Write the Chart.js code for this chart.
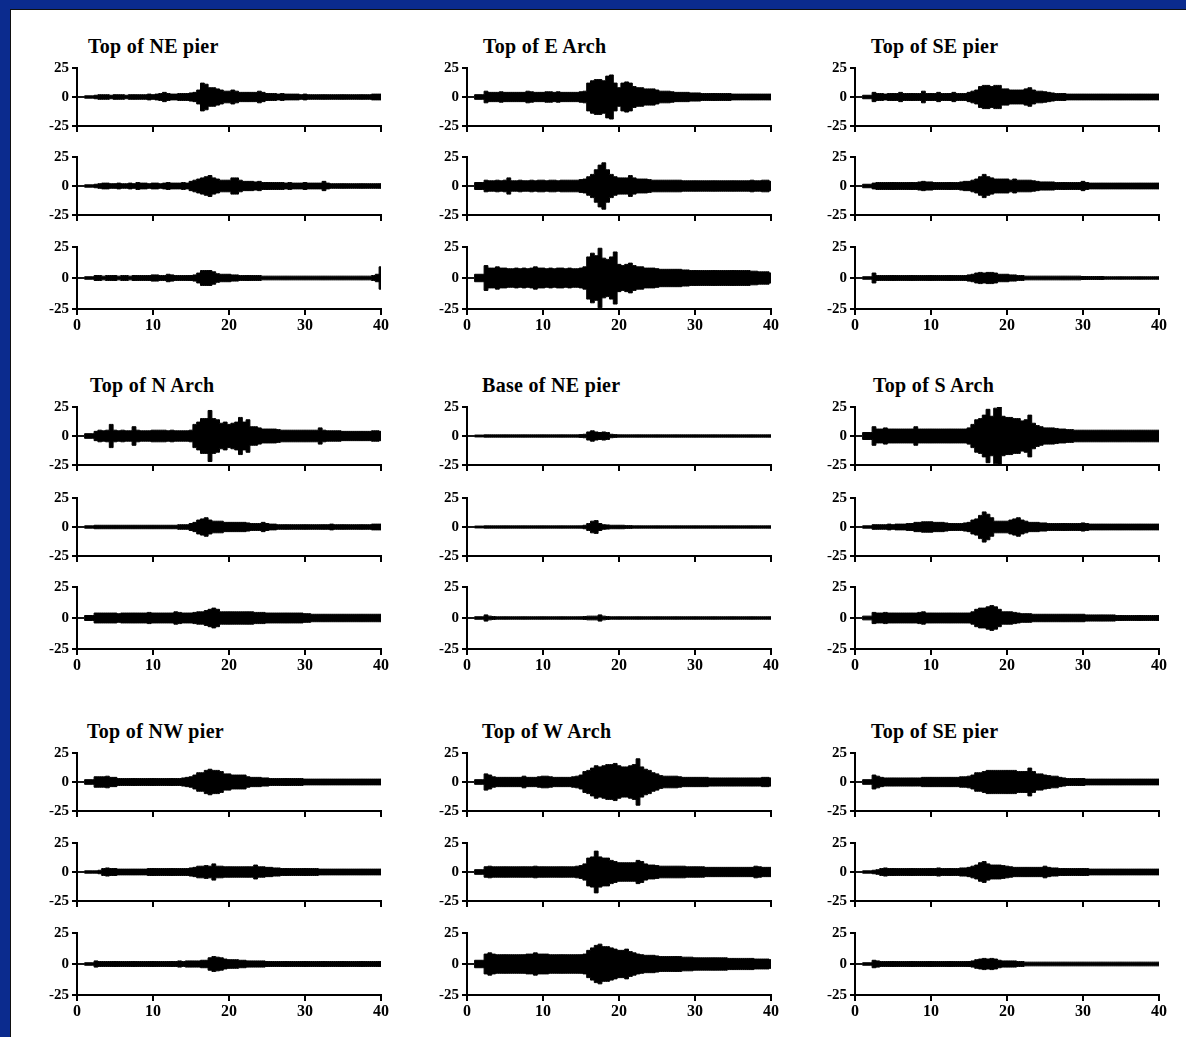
<!DOCTYPE html>
<html>
<head>
<meta charset="utf-8">
<title>Recorded responses</title>
<script src="https://cdn.jsdelivr.net/npm/chart.js@4.4.1/dist/chart.umd.min.js"></script>
<style>
  html, body { margin: 0; padding: 0; }
  body { width: 1186px; height: 1037px; background: #0b2b8e; position: relative; overflow: hidden; }
  #sheet { position: absolute; left: 10px; top: 9px; right: 0; bottom: 0; background: #fff;
           border-left: 1px solid #111; border-top: 1px solid #111; }
  .trace { position: absolute; }
  .trace canvas { display: block; }
  .title { position: absolute; font: bold 20px "Liberation Serif", "Times New Roman", serif;
           line-height: 20px; letter-spacing: 0.3px; color: #000; white-space: nowrap; }
</style>
</head>
<body>
<div id="sheet"></div>
<script>
// time axis (s) shared by every trace
const TIMES = [0, 2, 2.5, 3, 3.5, 4, 4.5, 5, 5.5, 6, 6.5, 7, 7.5, 8, 8.5, 9, 9.5, 10, 10.5, 11, 11.5,
  12, 12.5, 13, 13.5, 14, 14.5, 15, 15.5, 16, 16.5, 17, 17.5, 18, 18.5, 19, 19.5, 20, 20.5, 21, 21.5,
  22, 22.5, 23, 23.5, 24, 24.5, 25, 25.5, 26, 26.5, 27, 27.5, 28, 28.5, 29, 29.5, 30, 30.5, 31, 31.5,
  32, 32.5, 33, 33.5, 34, 34.5, 35, 35.5, 36, 36.5, 37, 37.5, 38, 38.5, 39, 39.5, 40];
const X_TICKS = [0, 10, 20, 30, 40];
const Y_TICKS = [-25, 0, 25];
const TITLES = ['Top of NE pier', 'Top of E Arch', 'Top of SE pier',
                'Top of N Arch', 'Base of NE pier', 'Top of S Arch',
                'Top of NW pier', 'Top of W Arch', 'Top of SE pier'];

// envelope half-amplitude, one value per TIMES entry
const NE_PIER_1 = [0.3,
  1, 1.5, 2, 2, 2, 1.5, 2, 2, 2, 1.5,  2, 2, 2, 2, 2, 2.5, 2, 2.5, 3, 4,
  3, 2.5, 2.5, 3, 3, 3, 3.5, 4, 6, 12,  11, 8, 8, 7, 6, 5, 5, 6, 5, 4,
  4, 4, 4, 4, 5, 4, 3, 3, 3, 2.5,  3, 2.5, 2.5, 2.5, 2.5, 2, 2.5, 2, 2, 2,
  2, 2, 2, 2, 2, 2, 2, 2, 2, 2,  2, 2, 2, 2, 2.5, 2.5,  2.5];
const NE_PIER_2 = [0.3,
  1, 1.5, 2, 2.5, 2.5, 2, 2, 2.5, 2, 2,  2.5, 2, 3, 2.5, 2.5, 2, 2.5, 2.5, 2, 2.5,
  3, 2.5, 2.5, 2.5, 3, 2.5, 4, 5, 6, 7,  8, 9, 7, 6, 5, 5, 5, 7, 7, 5,
  4, 4, 4, 3.5, 4, 3, 3, 3, 3, 3,  3, 2.5, 3, 2.5, 2.5, 2.5, 3, 2.5, 2.5, 2.5,
  2.5, 4, 2.5, 2, 2, 2, 2, 2, 2, 2,  2, 2, 2, 2, 2, 2,  2];
const NE_PIER_3 = [0.3,
  1, 2, 2, 1.5, 2, 2, 2, 1.5, 2, 2,  1.5, 2, 2, 2, 2, 2, 2.5, 2.5, 2, 2,
  3, 2.5, 2, 2, 2, 2, 2, 2.5, 4, 6,  6, 6, 5, 3.5, 3, 3, 3, 2.5, 2.5, 2,
  2, 2, 2, 2, 2, 1.5, 1.5, 1.5, 1.5, 1.5,  1.5, 1.5, 1.5, 1.5, 1.5, 1.5, 1.5, 1.5, 1.5, 1.5,
  1.5, 1.5, 1.5, 1.5, 1.5, 1.5, 1.5, 1.5, 1.5, 1.5,  1.5, 1.5, 1.5, 1.5, 2, 3,  9];

const E_ARCH_1 = [0.3,
  2, 5, 4, 4, 4, 4.5, 4, 4, 4, 4,  4, 4, 5, 4.5, 4, 4, 4, 4.5, 4.5, 4,
  4.5, 4, 4, 4, 4, 4, 4.5, 5, 12, 14,  15, 15, 14, 18, 19, 12, 8, 12, 13, 12,
  9, 8, 8, 7, 7, 7, 6, 5, 5, 5,  4.5, 4, 4, 4, 4, 3.5, 3.5, 3.5, 3, 3,
  3, 3, 3, 3, 3, 3, 2.5, 2.5, 2.5, 2.5,  2.5, 2.5, 2.5, 2.5, 2.5, 2.5,  2.5];
const E_ARCH_2 = [0.3,
  3, 5, 4.5, 4.5, 5, 4.5, 5, 7, 4.5, 4.5,  5, 4.5, 4.5, 5, 4.5, 5, 5, 4.5, 5, 5,
  4.5, 5, 5, 5, 5, 5, 5.5, 6, 8, 10,  14, 18, 20, 14, 10, 8, 7, 7, 7, 9,
  7, 6, 6, 6, 5.5, 5, 5, 5, 5, 5,  5, 5, 5, 4.5, 4.5, 4.5, 4.5, 4.5, 4.5, 4.5,
  4.5, 4.5, 4.5, 4.5, 4.5, 4.5, 4.5, 4.5, 4.5, 4.5,  4.5, 5, 4.5, 4.5, 5, 5,  4];
const E_ARCH_3 = [0.3,
  3, 10, 8, 8, 9, 8, 8, 7.5, 7.5, 8,  7.5, 8, 7.5, 8, 9, 8, 8, 7.5, 8, 7.5,
  8, 8, 7.5, 8, 7.5, 7.5, 8, 9, 17, 20,  18, 24, 16, 15, 17, 21, 11, 10, 11, 12,
  10, 9, 9, 8, 8, 8, 7.5, 7, 7, 7,  7, 7, 7, 6.5, 6.5, 6, 6, 6, 6, 6,
  6, 6, 6, 6, 6, 6, 6, 6, 6, 6,  6, 5.5, 5.5, 5, 5, 5,  4];

const SE_PIER_1 = [0.3,
  1.5, 4, 3, 3, 2.5, 3, 3, 3, 4, 3,  3, 3, 3, 3, 5, 3, 3, 3, 4, 3,
  3, 3, 4, 3, 3, 3, 4, 5, 6, 9,  10, 10, 9, 10, 10, 7, 7, 6, 6, 6,
  6, 7, 8, 6, 5, 5, 4.5, 4, 3.5, 3,  3, 3, 2.5, 2.5, 2.5, 2.5, 2.5, 2.5, 2.5, 2.5,
  2.5, 2.5, 2.5, 2.5, 2.5, 2.5, 2.5, 2.5, 2.5, 2.5,  2.5, 2.5, 2.5, 2.5, 2.5, 2.5,  2.5];
const SE_PIER_2 = [0.3,
  1.5, 2.5, 3, 3, 3, 3, 3, 3, 3, 3,  3, 3, 3, 3.5, 4, 3.5, 3.5, 3, 3, 3,
  3, 3, 3, 3, 3.5, 4, 4, 5, 6, 8,  10, 8, 7, 6, 6, 6, 6, 5, 6, 5,
  5, 5, 5, 4.5, 4, 3.5, 3.5, 3.5, 3.5, 3,  3, 3, 3, 3, 3, 3, 4, 3, 2.5, 2.5,
  2.5, 2.5, 2.5, 2.5, 2.5, 2.5, 2.5, 2.5, 2.5, 2.5,  2.5, 2.5, 2.5, 2.5, 2.5, 2.5,  2.5];
const SE_PIER_3 = [0.3,
  1, 4, 2, 2, 2, 2, 2, 2, 2, 2,  2, 2, 2, 2, 2, 2, 2, 2, 2, 2,
  2, 2, 2, 2, 2, 2, 2.5, 3, 4, 4.5,  4, 4.5, 4.5, 4, 3, 3, 3, 2.5, 2.5, 2,
  2, 1.5, 1.5, 1.5, 1.5, 1.5, 1.5, 1.5, 1.5, 1.5,  1.5, 1.5, 1.5, 1.5, 1.5, 1.5, 1.2, 1.2, 1.2, 1.2,
  1.2, 1.2, 1, 1, 1, 1, 1, 1, 1, 1,  1, 1, 1, 1, 1, 1,  1];

const N_ARCH_1 = [0.3,
  2, 4, 5, 4.5, 5, 10, 5, 4.5, 5, 4.5,  4.5, 8, 5, 4.5, 4.5, 4.5, 5, 5, 5, 5,
  4.5, 5, 4.5, 4.5, 4.5, 4.5, 5, 10, 12, 15,  15, 22, 15, 14, 11, 12, 10, 11, 12, 16,
  12, 14, 8, 8, 7, 6, 6, 6, 6, 5.5,  5, 5, 5, 5, 5, 5, 5, 5, 5, 5,
  7, 5, 4.5, 4.5, 4.5, 4.5, 4, 4, 4, 4,  4, 4, 4, 4, 4.5, 4.5,  4];
const N_ARCH_2 = [0.3,
  1, 1.5, 1.5, 1.5, 1.5, 1.5, 1.5, 1.5, 1.5, 1.5,  1.5, 1.5, 1.5, 1.5, 1.5, 1.5, 1.5, 1.5, 1.5, 1.5,
  1.5, 1.5, 1.5, 2, 2, 2, 3, 4, 6, 7,  8, 6, 5, 5, 5, 4, 4, 4, 4, 4,
  4, 3.5, 3, 3, 3, 4, 3, 2.5, 2.5, 2,  2, 2, 2, 2, 2, 2, 2, 2, 2, 2,
  2, 2, 2, 2.5, 2, 2, 2, 2, 2, 2,  2, 2, 2, 2, 2.5, 2.5,  2.5];
const N_ARCH_3 = [0.3,
  2, 4, 4, 4, 4, 4, 4, 3.5, 4, 4,  4, 4, 4, 4, 4, 4.5, 4, 4, 4, 4,
  4, 4, 5, 4.5, 4, 4, 4, 4.5, 5, 5,  6, 7, 8, 7, 5, 5, 5, 5, 5, 5,
  5, 5, 5, 4.5, 4.5, 4.5, 4, 4, 4, 4,  4, 4, 4, 4, 4, 4, 3.5, 3.5, 3, 3,
  3, 3, 3, 3, 3, 3, 3, 3, 3, 3,  3, 3, 3, 3, 3, 3,  3];

const NE_BASE_1 = [0.3,
  0.8, 1, 1, 1, 1, 1, 1, 1, 1, 1,  1, 1, 1, 1, 1, 1, 1, 1, 1, 1,
  1, 1, 1, 1, 1, 1, 1.2, 1.5, 3.5, 4.5,  3.5, 3, 3.5, 3, 1.5, 1.2, 1, 1, 1, 1,
  1, 1, 1, 1, 1, 1, 1, 1, 1, 1,  1, 1, 1, 1, 1, 1, 1, 1, 1, 1,
  1, 1, 1, 1, 1, 1, 1, 1, 1, 1,  1, 1, 1, 1, 1, 1,  1];
const NE_BASE_2 = [0.3,
  0.8, 1, 1, 1, 1, 1, 1, 1, 1, 1,  1, 1, 1, 1, 1, 1, 1, 1, 1, 1,
  1, 1, 1, 1, 1, 1, 1, 1.5, 3, 5,  5.5, 3, 2, 1.8, 1.5, 1.5, 1.5, 1.5, 1.2, 1.2,
  1, 1, 1, 1, 1, 1, 1, 1, 1, 1,  1, 1, 1, 1, 1, 1, 1, 1, 1, 1,
  1, 1, 1, 1, 1, 1, 1, 1, 1, 1,  1, 1, 1, 1, 1, 1,  1];
const NE_BASE_3 = [0.3,
  1, 2.5, 1.5, 1.2, 1, 1, 1, 1, 1, 1,  1, 1, 1, 1, 1, 1, 1, 1, 1, 1,
  1, 1, 1, 1, 1, 1, 1, 1.2, 1.5, 1.5,  1.5, 2.5, 1.5, 1.2, 1, 1, 1, 1, 1, 1,
  1, 1, 1, 1, 1, 1, 1, 1, 1, 1,  1, 1, 1, 1, 1, 1, 1, 1, 1, 1,
  1, 1, 1, 1, 1, 1, 1, 1, 1, 1,  1, 1, 1, 1, 1, 1,  1];

const S_ARCH_1 = [0.3,
  3, 8, 6, 6, 7, 6, 6, 6, 6, 6,  6, 6, 8, 6, 6, 6, 6, 6, 6, 6,
  6, 6, 6, 6, 6, 6, 7, 10, 14, 15,  18, 23, 17, 24, 25, 17, 16, 16, 15, 15,
  13, 14, 18, 11, 9, 8, 7, 7, 7, 6.5,  6, 6, 5.5, 5.5, 5, 5, 5, 5, 5, 5,
  5, 5, 5, 5, 5, 5, 5, 5, 5, 5,  5, 5, 5, 5, 5, 5,  5];
const S_ARCH_2 = [0.3,
  1, 2, 2, 2, 2, 2.5, 2, 2.5, 2.5, 2.5,  3, 3, 4, 4, 4.5, 4.5, 4.5, 4, 4, 4,
  3.5, 3, 3, 3, 3, 3.5, 4, 6, 7, 10,  13, 11, 8, 5, 5, 5, 5, 6, 7, 8,
  6, 5, 4, 4, 4, 3.5, 3.5, 3, 3, 3,  3, 3, 3, 3, 3, 3, 3.5, 3, 2.5, 2.5,
  2.5, 2.5, 2.5, 2.5, 2.5, 2.5, 2.5, 2.5, 2.5, 2.5,  2.5, 2.5, 2.5, 2.5, 2.5, 2.5,  2.5];
const S_ARCH_3 = [0.3,
  1.5, 4.5, 4, 4, 4.5, 4, 4, 4, 4, 4,  4, 4, 4, 4.5, 5, 4, 4, 4, 4, 4,
  4, 4, 4, 4, 4, 4, 4, 5, 7, 8,  8, 9, 10, 9, 7, 5, 5, 5, 4.5, 4,
  3.5, 3.5, 3.5, 3, 3, 3, 3, 3, 3, 3,  3, 3, 3, 3, 3, 3, 3, 2.5, 2.5, 2.5,
  2.5, 2.5, 2.5, 2.5, 2.5, 2, 2, 2, 2, 2,  2, 2, 2, 2, 2, 2,  2];

const NW_PIER_1 = [0.3,
  2, 4.5, 4.5, 4.5, 5, 4, 4, 3, 3, 3,  3, 3, 3, 3, 3, 3, 3, 3, 3, 3,
  3, 3, 3, 3, 3.5, 4, 4.5, 6, 8, 8,  10, 11, 10, 10, 9, 7, 7, 6, 6, 6,
  6, 4.5, 4, 4, 4, 3.5, 3.5, 3, 3, 3,  3, 3, 3, 3, 3, 3, 2.5, 2.5, 2.5, 2.5,
  2.5, 2.5, 2.5, 2.5, 2.5, 2.5, 2.5, 2.5, 2.5, 2.5,  2.5, 2.5, 2.5, 2.5, 2.5, 2.5,  2.5];
const NW_PIER_2 = [0.3,
  1, 1, 1.5, 3, 3.5, 3, 3, 2.5, 2.5, 2.5,  2.5, 2.5, 2.5, 2.5, 2.5, 3, 3, 3, 3, 3,
  3, 3, 3, 3, 3, 3, 3.5, 4, 5, 5,  5.5, 5, 7, 5, 5, 4.5, 4.5, 4.5, 4.5, 4.5,
  4.5, 4.5, 4.5, 6, 4.5, 4.5, 4, 4, 3.5, 3.5,  3, 3, 3, 3, 3, 3, 3, 3, 3, 3,
  2.5, 2.5, 2.5, 2.5, 2.5, 2.5, 2.5, 2.5, 2.5, 2.5,  2.5, 2.5, 2.5, 2.5, 2.5, 2.5,  2.5];
const NW_PIER_3 = [0.3,
  1, 2.5, 2, 2, 2, 2, 2, 2, 2, 2,  2, 2, 2, 2, 2, 2, 2, 2, 2, 2,
  2, 2, 2, 2.5, 2, 2.5, 2.5, 2.5, 2.5, 3,  3, 5, 6, 5.5, 5, 4, 3.5, 3.5, 3.5, 3,
  3, 2.5, 2.5, 2.5, 2.5, 2.5, 2, 2, 2, 2,  2, 2, 2, 2, 2, 2, 2, 2, 2, 2,
  2, 2, 2, 2, 2, 2, 2, 2, 2, 2,  2, 2, 2, 2, 2, 2,  2];

const W_ARCH_1 = [0.3,
  2, 7, 6, 4.5, 4, 4, 4, 4, 4, 4,  4, 5, 4, 4, 4, 4.5, 5, 5, 4.5, 4,
  4, 4, 4, 4, 4.5, 5, 6, 9, 10, 12,  14, 13, 14, 15, 15, 16, 14, 13, 13, 14,
  15, 20, 13, 11, 10, 8, 7, 5.5, 5, 5,  5, 5, 4.5, 4, 4, 4, 4, 4, 4, 4,
  3.5, 3.5, 3.5, 3.5, 3.5, 3.5, 3.5, 3.5, 3.5, 3.5,  3.5, 3.5, 3.5, 3.5, 4, 4,  3.5];
const W_ARCH_2 = [0.3,
  2, 4.5, 5, 4.5, 4.5, 4.5, 4.5, 4.5, 4.5, 4.5,  4.5, 4.5, 4.5, 4.5, 5, 4.5, 4.5, 4.5, 4.5, 4.5,
  4.5, 4.5, 4.5, 4.5, 4.5, 5, 5.5, 7, 12, 13,  18, 13, 12, 12, 10, 9, 8, 8, 8, 8,
  8, 10, 9, 7, 6, 6, 5.5, 5, 5, 5,  5, 5, 5, 5, 4.5, 4.5, 4.5, 4.5, 4.5, 4,
  4, 4, 4, 4, 4, 4, 4, 4, 4, 4,  4, 4, 5, 4.5, 4, 4,  4];
const W_ARCH_3 = [0.3,
  3, 8, 9, 8, 7.5, 7.5, 7.5, 7.5, 7.5, 7.5,  7.5, 7.5, 8, 8, 9, 8, 8, 8, 7.5, 7.5,
  7.5, 7.5, 7.5, 7.5, 7.5, 7.5, 7.5, 8, 11, 13,  15, 16, 14, 14, 13, 12, 11, 11, 12, 10,
  9, 8, 7.5, 7, 7, 7, 6.5, 6, 6, 6,  6, 6, 6, 5.5, 5.5, 5.5, 5, 5, 5, 5,
  5, 5, 5, 5, 5, 4.5, 4.5, 4.5, 4.5, 4.5,  4.5, 4.5, 4, 4, 4, 4,  3.5];

const SE_PIER_B1 = [0.3,
  2, 6, 5, 4, 3.5, 3.5, 3.5, 3.5, 3.5, 3.5,  3.5, 3.5, 3.5, 3.5, 4, 4, 4, 4, 4, 4,
  4, 4, 4, 4, 4.5, 4.5, 5, 6, 8, 8,  9, 10, 10, 10, 10, 10, 10, 10, 10, 9,
  9, 9, 12, 9, 7, 7, 6, 5.5, 5, 5,  4, 3.5, 3, 3, 3, 3, 3, 2.5, 2.5, 2.5,
  2.5, 2.5, 2.5, 2.5, 2.5, 2.5, 2.5, 2.5, 2.5, 2.5,  2.5, 2.5, 2.5, 2.5, 2.5, 2.5,  2.5];
const SE_PIER_B2 = [0.3,
  1, 1.5, 2, 3, 3.5, 3, 3, 3, 3, 3,  3, 3, 3, 3, 3, 3, 3, 3, 3.5, 3,
  3, 3, 3, 3, 3.5, 3.5, 4, 5, 6, 8,  9, 7, 6, 6, 6, 5.5, 5, 4.5, 4, 4,
  4, 4, 4, 4, 4, 4, 5, 4, 3.5, 3.5,  3, 3, 3, 3, 3, 3, 3, 3, 2.5, 2.5,
  2.5, 2.5, 2.5, 2.5, 2.5, 2.5, 2.5, 2.5, 2.5, 2.5,  2.5, 2.5, 2.5, 2.5, 2.5, 2.5,  2.5];
const SE_PIER_B3 = [0.3,
  1, 3, 2.5, 2, 2, 2, 2, 2, 2, 2,  2, 2, 2, 2, 2, 2, 2, 2, 2, 2,
  2, 2, 2, 2, 2, 2, 2, 2.5, 3.5, 4,  4.5, 4, 4.5, 4, 3, 2.5, 2.5, 2.5, 2.5, 2,
  2, 1.5, 1.5, 1.5, 1.5, 1.5, 1.5, 1.5, 1.5, 1.5,  1.5, 1.5, 1.5, 1.5, 1.5, 1.5, 1.5, 1.5, 1.5, 1.5,
  1.5, 1.5, 1.5, 1.5, 1.5, 1.5, 1.5, 1.5, 1.5, 1.5,  1.5, 1.5, 1.5, 1.5, 1.5, 1.5,  1.5];

const PANEL_TRACES = [
  [NE_PIER_1, NE_PIER_2, NE_PIER_3], [E_ARCH_1, E_ARCH_2, E_ARCH_3], [SE_PIER_1, SE_PIER_2, SE_PIER_3],
  [N_ARCH_1, N_ARCH_2, N_ARCH_3], [NE_BASE_1, NE_BASE_2, NE_BASE_3], [S_ARCH_1, S_ARCH_2, S_ARCH_3],
  [NW_PIER_1, NW_PIER_2, NW_PIER_3], [W_ARCH_1, W_ARCH_2, W_ARCH_3], [SE_PIER_B1, SE_PIER_B2, SE_PIER_B3]
];

/* ---------- layout (page pixels) ---------- */
const COL_X = [77, 467, 855];                 // x of the y axis in each column
const ROW_Y = [[68, 157, 247], [407, 498, 587], [753, 843, 933]];  // y of "25" per trace
const TITLE_X = [[88, 483, 871], [90, 482, 873], [87, 482, 871]];
const TITLE_Y = [36, 375, 721];
const PLOT_W = 304, PLOT_H = 62;

Chart.defaults.font.family = '"Liberation Serif", "Times New Roman", serif';
Chart.defaults.font.weight = 'bold';
Chart.defaults.color = '#000';
Chart.defaults.animation = false;

function buildTrace(axisX, topY, amp, labelled) {
  if (amp.length !== TIMES.length) console.warn('length mismatch', amp.length);
  const YW = 50, PT = 12, PR = 20, XH = labelled ? 32 : 8;
  const cw = YW + PLOT_W + PR, ch = PT + PLOT_H + XH;

  const box = document.createElement('div');
  box.className = 'trace';
  box.style.left = (axisX - YW) + 'px';
  box.style.top = (topY - PT) + 'px';
  box.style.width = cw + 'px';
  box.style.height = ch + 'px';
  const canvas = document.createElement('canvas');
  canvas.width = cw; canvas.height = ch;
  canvas.style.width = cw + 'px'; canvas.style.height = ch + 'px';
  box.appendChild(canvas);
  document.body.appendChild(box);

  new Chart(canvas, {
    type: 'line',
    data: {
      datasets: [
        { data: TIMES.map((t, i) => ({ x: t, y: amp[i] })), borderColor: '#000', borderWidth: 1,
          pointRadius: 0, stepped: 'middle', fill: false },
        { data: TIMES.map((t, i) => ({ x: t, y: -amp[i] })), borderColor: '#000', borderWidth: 1,
          pointRadius: 0, stepped: 'middle', fill: '-1', backgroundColor: '#000' }
      ]
    },
    options: {
      responsive: false,
      animation: false,
      events: [],
      layout: { padding: { top: PT, right: PR, left: 0, bottom: 0 } },
      plugins: { legend: { display: false }, tooltip: { enabled: false } },
      scales: {
        x: {
          type: 'linear', min: 0, max: 40,
          afterBuildTicks: s => { s.ticks = X_TICKS.map(v => ({ value: v })); },
          afterFit: s => { s.height = XH; },
          ticks: { display: labelled, autoSkip: false, maxRotation: 0, padding: 1,
                   font: { size: 16, weight: 'bold' }, color: '#000' },
          grid: { drawOnChartArea: false, drawTicks: true, tickLength: 6, color: '#000', lineWidth: 2 },
          border: { display: true, color: '#000', width: 2 }
        },
        y: {
          min: -25, max: 25,
          afterBuildTicks: s => { s.ticks = Y_TICKS.map(v => ({ value: v })); },
          afterFit: s => { s.width = YW; },
          ticks: { padding: 3, font: { size: 15, weight: 'bold' }, color: '#000' },
          grid: { drawOnChartArea: false, drawTicks: true, tickLength: 5, color: '#000', lineWidth: 2 },
          border: { display: true, color: '#000', width: 2 }
        }
      }
    }
  });
}

PANEL_TRACES.forEach((traces, p) => {
  const col = p % 3, grp = Math.floor(p / 3);
  const t = document.createElement('div');
  t.className = 'title';
  t.textContent = TITLES[p];
  t.style.left = TITLE_X[grp][col] + 'px';
  t.style.top = TITLE_Y[grp] + 'px';
  document.body.appendChild(t);
  traces.forEach((amp, r) => buildTrace(COL_X[col], ROW_Y[grp][r], amp, r === 2));
});
</script>
</body>
</html>
